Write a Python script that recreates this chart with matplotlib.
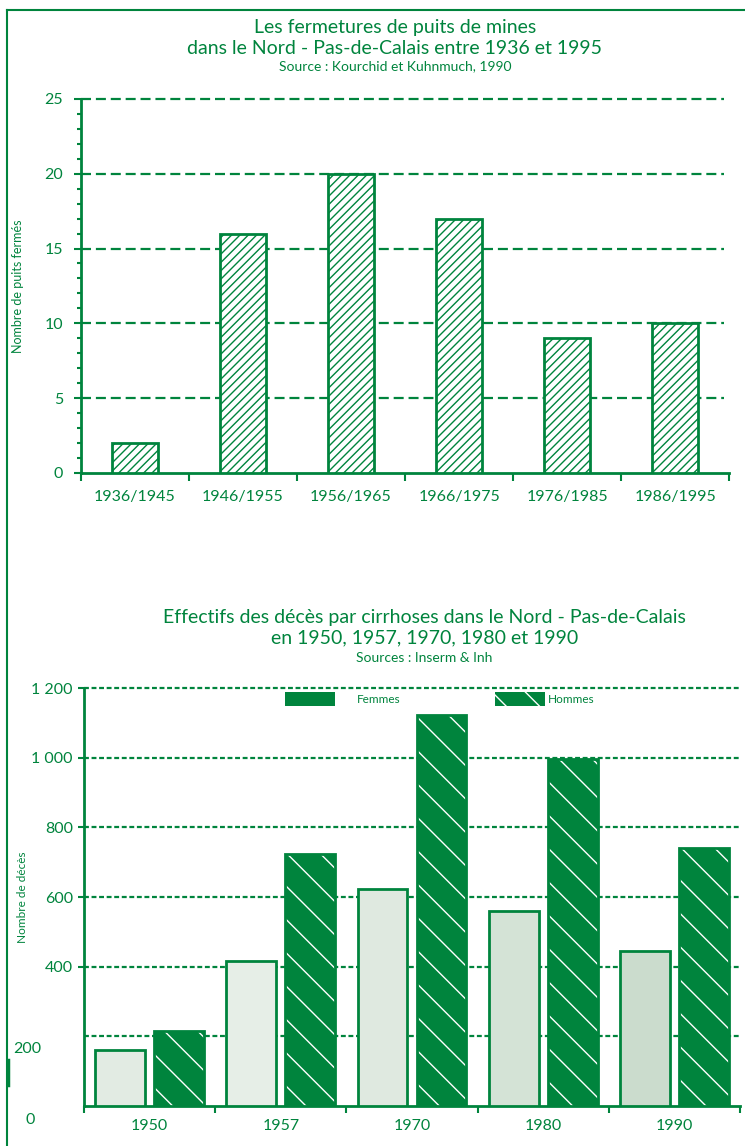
import matplotlib.pyplot as plt
import numpy as np
from matplotlib.lines import Line2D
from matplotlib.ticker import FixedLocator, MultipleLocator

GREEN = "#00843d"
# trame grise des barres Femmes, un peu plus foncée à droite
FEMME_FILLS = ["#e2ebe3", "#e6eee7", "#dfe9e0", "#d4e3d6", "#cbdccd"]
FONT = ["Lato", "DejaVu Sans"]

plt.rcParams["font.family"] = FONT
plt.rcParams["hatch.linewidth"] = 1.0

# Fermetures de puits
periodes = ["1936/1945", "1946/1955", "1956/1965", "1966/1975", "1976/1985", "1986/1995"]
puits_fermes = [2, 16, 20, 17, 9, 10]

# Décès par cirrhoses
annees = ["1950", "1957", "1970", "1980", "1990"]
deces_femmes = [160, 417, 623, 560, 446]
deces_hommes = [214, 723, 1123, 997, 740]

fig = plt.figure(figsize=(7.45, 11.46), dpi=100)

# cadre vert
fig.add_artist(Line2D([0.009, 1.0], [0.991, 0.991], color=GREEN, lw=1.5))
fig.add_artist(Line2D([0.009, 0.009], [0.0, 0.991], color=GREEN, lw=1.5))
fig.add_artist(Line2D([0.011, 0.011], [0.053, 0.075], color=GREEN, lw=2.5))


def style_axes(ax):
    for side in ("top", "right"):
        ax.spines[side].set_visible(False)
    for side in ("left", "bottom"):
        ax.spines[side].set_color(GREEN)
        ax.spines[side].set_linewidth(2)
    ax.tick_params(colors=GREEN, labelcolor=GREEN, width=1.5)


# --- graphique du haut ---
ax1 = fig.add_axes([0.1087, 0.5873, 0.870, 0.3264])
style_axes(ax1)
x1 = np.arange(len(periodes))
ax1.set_xlim(-0.5, len(periodes) - 0.5)
ax1.set_ylim(0, 25)
for v in [5, 10, 15, 20, 25]:
    ax1.plot([-0.5, 5.45], [v, v], color=GREEN, lw=1.6, ls=(0, (4.5, 2.2)), zorder=1, clip_on=False)
ax1.bar(x1, puits_fermes, width=0.42, facecolor="white", edgecolor=GREEN,
        hatch="////", linewidth=2, zorder=3)
ax1.set_yticks([0, 5, 10, 15, 20, 25])
ax1.yaxis.set_minor_locator(MultipleLocator(1))
ax1.tick_params(axis="y", which="major", length=5, labelsize=11.5, pad=8)
ax1.tick_params(axis="y", which="minor", length=3, color=GREEN, width=1.5)
ax1.set_xticks(x1)
ax1.set_xticklabels(periodes)
ax1.xaxis.set_minor_locator(FixedLocator(np.arange(-0.5, len(periodes), 1.0)))
ax1.tick_params(axis="x", which="major", length=0, labelsize=11.5, pad=12)
ax1.tick_params(axis="x", which="minor", length=6, color=GREEN, width=1.5)
ax1.set_ylabel("Nombre de puits fermés", color=GREEN, fontsize=9)
ax1.yaxis.set_label_coords(-0.088, 0.5)

fig.text(0.53, 0.976, "Les fermetures de puits de mines", color=GREEN,
         fontsize=14, ha="center", va="center")
fig.text(0.53, 0.958, "dans le Nord - Pas-de-Calais entre 1936 et 1995", color=GREEN,
         fontsize=14, ha="center", va="center")
fig.text(0.53, 0.942, "Source : Kourchid et Kuhnmuch, 1990", color=GREEN,
         fontsize=10, ha="center", va="center")

# --- graphique du bas ---
ax2 = fig.add_axes([0.1128, 0.0349, 0.8805, 0.3647])
style_axes(ax2)
x2 = np.arange(len(annees))
ax2.set_xlim(-0.5, len(annees) - 0.5)
ax2.set_ylim(0, 1200)
for v in [200, 400, 600, 800, 1000, 1200]:
    ax2.plot([-0.5, 4.5], [v, v], color=GREEN, lw=1.6, ls=(0, (2.2, 1.2)), zorder=1, clip_on=False)
off = 0.225
w = 0.38
ax2.bar(x2 - off, deces_femmes, width=w, color=FEMME_FILLS, edgecolor=GREEN,
        linewidth=2, zorder=3)
ax2.bar(x2 + off, deces_hommes, width=w, facecolor=GREEN, edgecolor="white",
        hatch="\\", linewidth=0, zorder=3)
ax2.bar(x2 + off, deces_hommes, width=w, facecolor="none", edgecolor=GREEN,
        linewidth=2, zorder=4)
ax2.set_yticks([400, 600, 800, 1000, 1200])
ax2.set_yticklabels(["400", "600", "800", "1 000", "1 200"])
ax2.tick_params(axis="y", which="major", length=4, labelsize=11.5, pad=4)
ax2.set_xticks(x2)
ax2.set_xticklabels(annees)
ax2.xaxis.set_minor_locator(FixedLocator(np.arange(-0.5, len(annees), 1.0)))
ax2.tick_params(axis="x", which="major", length=0, labelsize=11.5, pad=9)
ax2.tick_params(axis="x", which="minor", length=5, color=GREEN, width=1.5)
ax2.set_ylabel("Nombre de décès", color=GREEN, fontsize=8.5)
ax2.yaxis.set_label_coords(-0.085, 0.5)

# graduations 200 et 0 décalées
fig.text(0.037, 0.085, "200", color=GREEN, fontsize=11.5, ha="center", va="center")
fig.text(0.040, 0.023, "0", color=GREEN, fontsize=11.5, ha="center", va="center")

# légende
fig.patches.append(plt.Rectangle((0.383, 0.384), 0.067, 0.012, transform=fig.transFigure,
                                 facecolor=GREEN, edgecolor="none"))
fig.text(0.479, 0.390, "Femmes", color=GREEN, fontsize=8.5, ha="left", va="center")
fig.patches.append(plt.Rectangle((0.664, 0.384), 0.067, 0.012, transform=fig.transFigure,
                                 facecolor=GREEN, edgecolor="white", hatch="\\", lw=0))
fig.text(0.735, 0.390, "Hommes", color=GREEN, fontsize=8.5, ha="left", va="center")

fig.text(0.57, 0.461, "Effectifs des décès par cirrhoses dans le Nord - Pas-de-Calais",
         color=GREEN, fontsize=14, ha="center", va="center")
fig.text(0.57, 0.443, "en 1950, 1957, 1970, 1980 et 1990", color=GREEN,
         fontsize=14, ha="center", va="center")
fig.text(0.57, 0.426, "Sources : Inserm & Inh", color=GREEN, fontsize=10,
         ha="center", va="center")

fig.savefig("out.png", dpi=100)
